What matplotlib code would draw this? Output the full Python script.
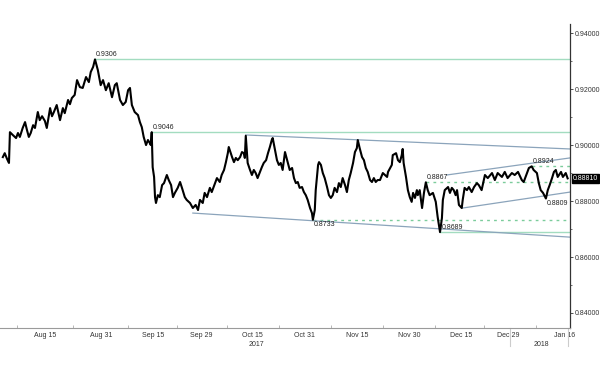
import numpy as np
import matplotlib
matplotlib.use("Agg")
import matplotlib.pyplot as plt

plt.rcParams["font.family"] = ["Liberation Sans Narrow", "Liberation Sans", "DejaVu Sans"]

# business days counted from 15 Aug 2017, and the price
t = [-8.9, -8.5, -8.0, -7.6, -7.4, -6.8, -6.1, -5.7, -5.3, -4.7, -4.2, -3.8, -3.4, -3.0,
     -2.5, -2.1, -1.5, -1.1, -0.6, 0.0, 0.4, 1.1, 1.5, 1.9, 2.5, 3.2, 3.8, 4.2, 4.9, 5.3,
     5.7, 6.3, 6.8, 7.4, 8.0, 8.7, 9.3, 9.7, 10.2, 10.6,
     11.2, 11.8, 12.3, 12.9, 13.5, 14.2, 14.8, 15.2, 15.9, 16.5, 17.1, 17.6, 18.0, 18.4,
     19.0, 19.7, 20.1, 20.5, 20.9, 21.4, 21.8, 22.2, 22.4, 22.6,
     22.8, 23.1, 23.3, 23.5, 23.9, 24.3, 24.8, 25.2, 25.8, 26.2, 26.7, 27.1, 27.5, 28.1,
     28.6, 29.0, 29.6, 30.0, 30.7, 31.3,
     31.9, 32.4, 32.8, 33.4, 33.8, 34.3, 34.9, 35.3, 36.0, 36.4, 37.0, 37.4, 37.9, 38.3,
     38.7, 38.9, 39.6, 40.0, 40.4, 40.8, 41.3, 41.7, 42.1, 42.3, 42.5, 42.9, 43.4, 43.8,
     44.2, 44.6, 45.0, 45.5, 45.9, 46.3, 46.8, 47.2, 47.6, 48.0, 48.2, 48.7, 49.1, 49.5,
     49.9, 50.3, 50.8,
     51.4, 51.8, 52.3, 52.7, 53.1, 53.5, 53.9, 54.4, 54.8, 55.2, 55.6, 56.1, 56.5, 56.7,
     57.1, 57.3, 57.8, 58.0, 58.4, 58.8, 59.2, 59.7, 60.1, 60.5, 60.9, 61.3, 61.8, 62.2,
     62.6, 63.0, 63.5, 63.9, 64.3, 64.7, 65.2, 65.6, 66.0, 66.2, 66.6, 67.1, 67.5, 67.9,
     68.3, 68.8, 69.2, 69.6, 70.0, 70.4,
     70.9, 71.5, 72.4, 72.6, 73.4, 73.6, 74.3, 74.7, 75.1, 75.5, 75.7, 75.9, 76.4, 76.8,
     77.2, 77.6, 77.9, 78.3, 78.7, 78.9, 79.3, 79.8, 80.2, 80.6, 81.0, 81.4, 82.1, 82.7,
     83.1, 83.6, 84.0, 84.2, 84.6, 85.3, 85.7, 86.1, 86.5, 86.9, 87.2, 87.6, 88.2, 88.4,
     88.8, 89.3, 89.7, 90.3, 90.8, 91.4, 91.8,
     92.4, 93.1, 93.7, 94.6, 95.2, 95.8, 96.7, 97.3, 97.9, 98.8, 99.4, 100.1, 100.9, 101.3,
     102.0, 102.4, 103.0, 103.4, 104.1, 104.5, 104.9, 105.4, 106.0, 106.4, 106.8, 107.3,
     107.7, 108.1, 108.5, 109.2, 109.6, 110.2, 110.6]
px = [0.8957, 0.8971, 0.8950, 0.8936, 0.9046, 0.9036, 0.9025, 0.9043, 0.9029, 0.9061, 0.9082,
      0.9054, 0.9029, 0.9043, 0.9071, 0.9061, 0.9118, 0.9089, 0.9103, 0.9086, 0.9061, 0.9132,
      0.9103, 0.9118, 0.9143, 0.9089, 0.9132, 0.9114, 0.9161, 0.9146, 0.9168, 0.9179, 0.9232,
      0.9207, 0.9204, 0.9243, 0.9225, 0.9261, 0.9279, 0.9306,
      0.9268, 0.9214, 0.9232, 0.9196, 0.9221, 0.9171, 0.9214, 0.9221, 0.9161, 0.9143, 0.9154,
      0.9196, 0.9204, 0.9143, 0.9118, 0.9107, 0.9082, 0.9064, 0.9029, 0.9000, 0.9018, 0.9007,
      0.9000, 0.9046,
      0.8921, 0.8886, 0.8814, 0.8793, 0.8821, 0.8814, 0.8857, 0.8864, 0.8893, 0.8875, 0.8857,
      0.8814, 0.8829, 0.8847, 0.8868, 0.8847, 0.8814, 0.8804, 0.8793, 0.8775,
      0.8786, 0.8768, 0.8804, 0.8793, 0.8829, 0.8814, 0.8847, 0.8832, 0.8864, 0.8882, 0.8868,
      0.8893, 0.8911, 0.8939, 0.8971, 0.8993, 0.8957, 0.8939, 0.8954, 0.8946, 0.8957, 0.8975,
      0.8971, 0.8954, 0.9033, 0.8936, 0.8911, 0.8893, 0.8911, 0.8900, 0.8882, 0.8904, 0.8921,
      0.8936, 0.8946, 0.8971, 0.8993, 0.9018, 0.9025, 0.8982, 0.8946, 0.8929, 0.8936, 0.8911,
      0.8975,
      0.8936, 0.8911, 0.8918, 0.8882, 0.8864, 0.8868, 0.8847, 0.8850, 0.8832, 0.8821, 0.8804,
      0.8775, 0.8757, 0.8733, 0.8768, 0.8839, 0.8929, 0.8939, 0.8929, 0.8900, 0.8882, 0.8850,
      0.8821, 0.8811, 0.8821, 0.8847, 0.8832, 0.8864, 0.8850, 0.8882, 0.8857, 0.8832, 0.8875,
      0.8900, 0.8936, 0.8975, 0.8989, 0.9018, 0.8989, 0.8957, 0.8946, 0.8918, 0.8904, 0.8875,
      0.8868, 0.8882, 0.8868, 0.8875,
      0.8875, 0.8900, 0.8886, 0.8904, 0.8929, 0.8964, 0.8971, 0.8946, 0.8939, 0.8964, 0.8986,
      0.8936, 0.8886, 0.8839, 0.8814, 0.8797, 0.8829, 0.8811, 0.8839, 0.8821, 0.8839, 0.8775,
      0.8829, 0.8867, 0.8839, 0.8821, 0.8829, 0.8797, 0.8743, 0.8689, 0.8739, 0.8804, 0.8839,
      0.8850, 0.8829, 0.8847, 0.8839, 0.8821, 0.8839, 0.8786, 0.8775, 0.8804, 0.8847, 0.8839,
      0.8850, 0.8832, 0.8850, 0.8864, 0.8857,
      0.8839, 0.8893, 0.8882, 0.8900, 0.8875, 0.8900, 0.8886, 0.8904, 0.8882, 0.8900, 0.8893,
      0.8904, 0.8875, 0.8868, 0.8900, 0.8918, 0.8924, 0.8911, 0.8900, 0.8864, 0.8839, 0.8829,
      0.8809, 0.8839, 0.8857, 0.8882, 0.8904, 0.8911, 0.8886, 0.8904, 0.8886, 0.8900, 0.8881]

last_price = 0.8881

# support / resistance levels: (start day, level, style)
levels = [(10.6, 0.9306, "-"), (22.6, 0.9046, "-"), (56.7, 0.8733, "--"),
          (83.6, 0.8689, "-"), (80.6, 0.8867, "--"), (103.0, 0.8924, "--")]

# trend lines: (day0, price0, day1, price1)
trends = [(42.5, 0.9036, 111.1, 0.8986),
          (31.3, 0.8757, 111.1, 0.8671),
          (85.0, 0.8893, 111.1, 0.8954),
          (88.4, 0.8775, 111.1, 0.8832)]

# labelled points: (day, price, text, va)
marks = [(10.6, 0.9306, "0.9306", "bottom"), (22.6, 0.9046, "0.9046", "bottom"),
         (56.7, 0.8733, "0.8733", "top"), (83.8, 0.8689, "0.8689", "bottom"),
         (80.6, 0.8867, "0.8867", "bottom"), (103.0, 0.8924, "0.8924", "bottom"),
         (106.0, 0.8809, "0.8809", "top")]

base = np.datetime64("2017-08-15")
tick_dates = ["2017-08-15", "2017-08-31", "2017-09-15", "2017-09-29", "2017-10-15",
              "2017-10-31", "2017-11-15", "2017-11-30", "2017-12-15", "2017-12-29",
              "2018-01-16"]
tick_labels = ["Aug 15", "Aug 31", "Sep 15", "Sep 29", "Oct 15", "Oct 31", "Nov 15",
               "Nov 30", "Dec 15", "Dec 29", "Jan 16"]


def bpos(d):
    return float(np.busday_count(base, np.datetime64(d)))


x0, x1 = -9.5, 111.1
green = "#a3dcc0"
dgreen = "#7ccc9c"
steel = "#8ba4bb"
fs = 5

fig = plt.figure(figsize=(6, 3.67), dpi=100)
ax = fig.add_axes([0.0, 0.1063, 0.95, 0.828])

for start, lev, ls in levels:
    if ls == "-":
        ax.plot([start, x1], [lev, lev], color=green, lw=1.0, zorder=1)
    else:
        ax.plot([start, x1], [lev, lev], color=dgreen, lw=1.0, ls=(0, (2, 3)), zorder=1)

for a, pa, b, pb in trends:
    ax.plot([a, b], [pa, pb], color=steel, lw=0.9, zorder=1)

ax.plot(t, px, color="black", lw=1.5, zorder=3)

for d, p, txt, va in marks:
    ax.annotate(txt, (d, p), xytext=(0.5, 1 if va == "bottom" else -1),
                textcoords="offset points", ha="left", va=va, fontsize=fs, color="#222222",
                zorder=4)

ax.set_xlim(x0, x1)
ax.set_ylim(0.83464, 0.94321)

for s in ["left", "top"]:
    ax.spines[s].set_visible(False)
ax.spines["bottom"].set_color("#9a9a9a")
ax.spines["bottom"].set_linewidth(0.8)
ax.spines["right"].set_color("#333333")
ax.spines["right"].set_linewidth(0.9)

yt = [0.84, 0.86, 0.88, 0.90, 0.92, 0.94]
ax.yaxis.tick_right()
ax.set_yticks(yt)
ax.set_yticklabels(["%.5f" % v for v in yt])
ax.set_yticks([0.85, 0.87, 0.89, 0.91, 0.93], minor=True)
ax.tick_params(axis="y", which="major", length=2.5, width=0.6, pad=1, labelsize=fs,
               colors="#333333")
ax.tick_params(axis="y", which="minor", length=1.5, width=0.5, colors="#333333")

tpos = [bpos(d) for d in tick_dates]
ax.set_xticks(tpos)
ax.set_xticklabels(tick_labels)
ax.set_xticks([(a + b) / 2 for a, b in zip(tpos[:-1], tpos[1:])] + [x0 + 3.5], minor=True)
ax.tick_params(axis="x", which="major", length=0, pad=3, labelsize=fs, colors="#333333")
ax.tick_params(axis="x", which="minor", length=2, width=0.5, colors="#9a9a9a",
               direction="in")

# year labels and separator
jan1 = bpos("2018-01-01")
ax.text((x0 + jan1) / 2, -0.055, "2017", transform=ax.get_xaxis_transform(),
        ha="center", va="center", fontsize=fs, color="#333333")
ax.text((jan1 + x1) / 2, -0.055, "2018", transform=ax.get_xaxis_transform(),
        ha="center", va="center", fontsize=fs, color="#333333")
for xv in [jan1 - 0.5, x1 - 0.5]:
    ax.plot([xv, xv], [0, -0.06], color="#cccccc", lw=0.8,
            transform=ax.get_xaxis_transform(), clip_on=False)

# last price box
ax.annotate("%.5f" % last_price, xy=(1.0, last_price), xycoords=("axes fraction", "data"),
            xytext=(2, 0), textcoords="offset points", ha="left", va="center",
            fontsize=fs, color="white",
            bbox=dict(boxstyle="square,pad=0.15", fc="black", ec="black"))

fig.savefig("out.png", dpi=100)
